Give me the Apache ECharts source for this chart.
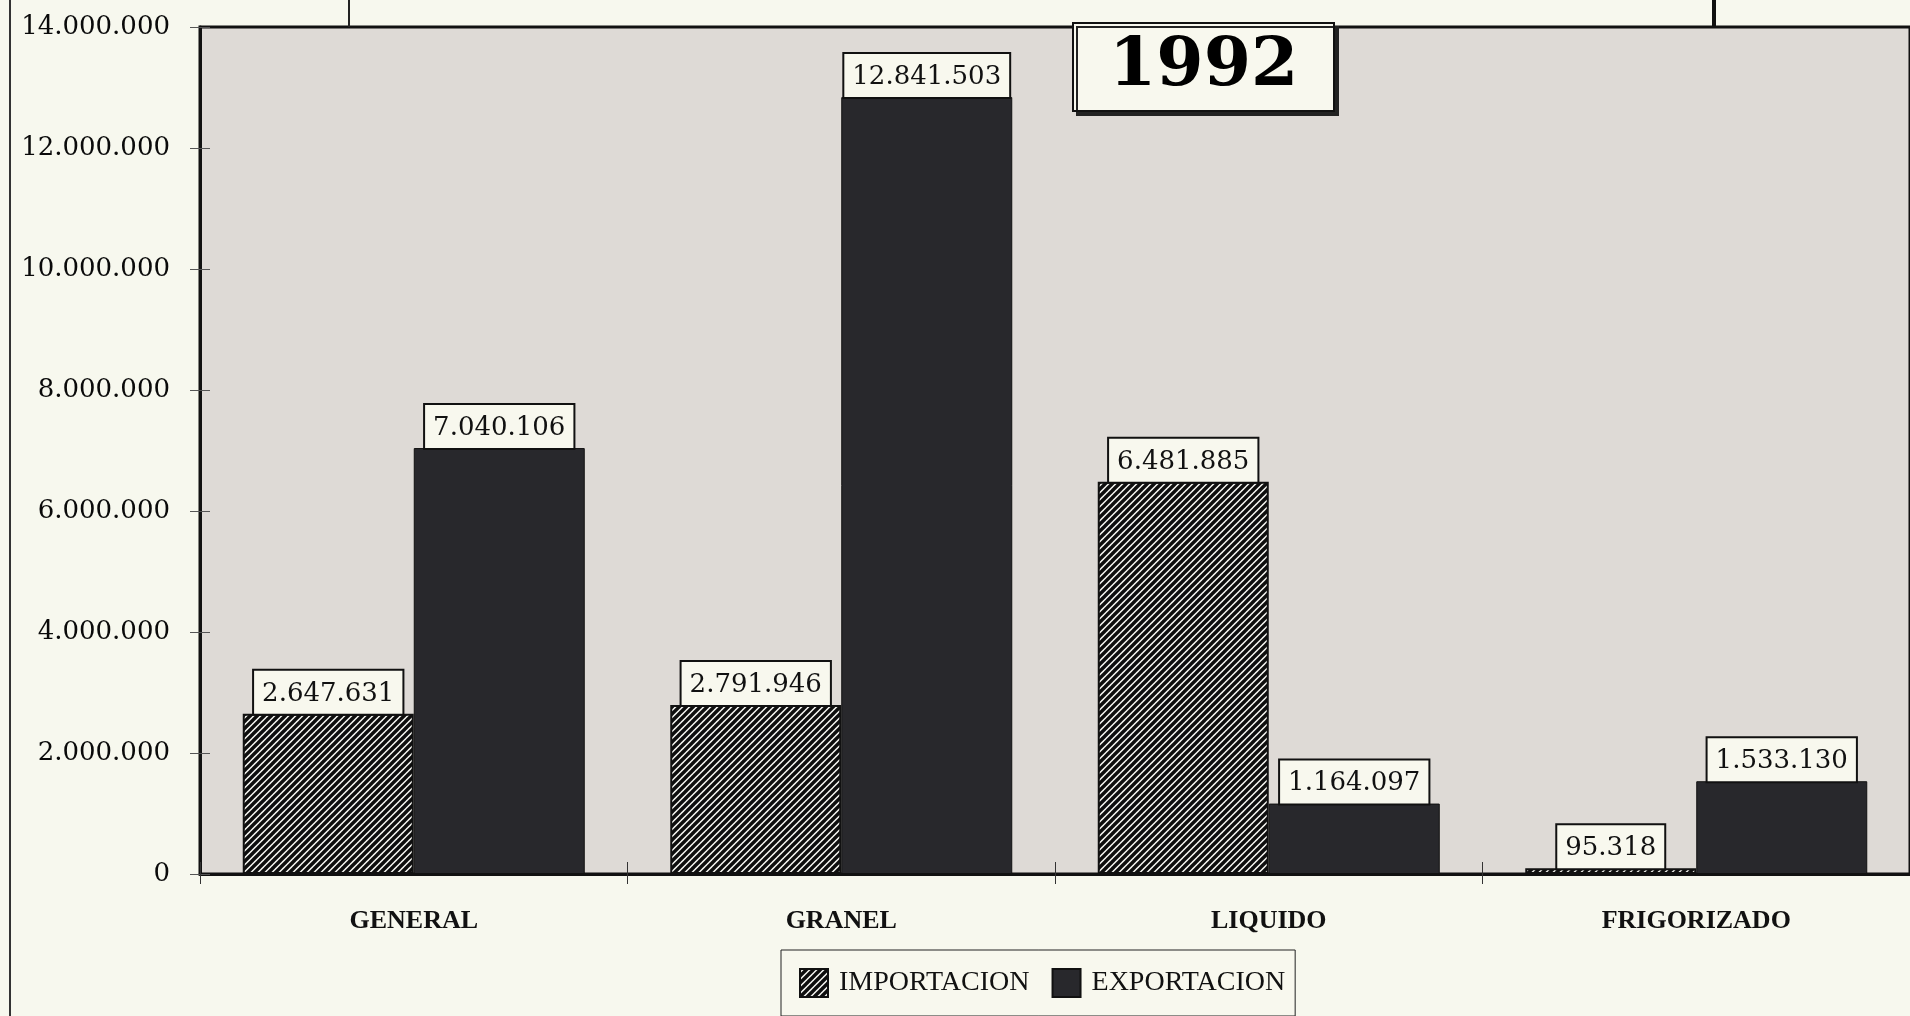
<!DOCTYPE html>
<html lang="es">
  <head>
    <meta charset="utf-8" />
    <style>
      html,
      body {
        margin: 0;
        width: 100%;
        height: 100%;
        background-color: #f7f8ee;
      }
      #container {
        width: 100%;
        height: 100%;
      }
    </style>
    <script src="https://cdn.jsdelivr.net/npm/echarts@6/dist/echarts.min.js"></script>
  </head>

  <body>
    <div id="container"></div>

    <script>
      // datos (toneladas, 1992)
      var categories = ["GENERAL", "GRANEL", "LIQUIDO", "FRIGORIZADO"];
      var importacion = [2647631, 2791946, 6481885, 95318];
      var exportacion = [7040106, 12841503, 1164097, 1533130];
      var seriesNames = ["IMPORTACION", "EXPORTACION"];
      var yearLabel = "1992";

      (function () {
        var chart = echarts.init(document.querySelector("#container"));

        // separador de miles con punto
        function fmt(v) {
          return String(v).replace(/\B(?=(\d{3})+(?!\d))/g, ".");
        }

        // trama rayada para importacion
        function hatch() {
          var c = document.createElement("canvas");
          var s = 7;
          c.width = s;
          c.height = s;
          var ctx = c.getContext("2d");
          ctx.fillStyle = "#f2f2ee";
          ctx.fillRect(0, 0, s, s);
          ctx.strokeStyle = "#0e0e0e";
          ctx.lineWidth = 3.4;
          ctx.beginPath();
          ctx.moveTo(0, s);
          ctx.lineTo(s, 0);
          ctx.moveTo(-1, 1);
          ctx.lineTo(1, -1);
          ctx.moveTo(s - 1, s + 1);
          ctx.lineTo(s + 1, s - 1);
          ctx.stroke();
          return c;
        }

        var labelStyle = {
          show: true,
          position: "top",
          distance: 0,
          formatter: function (p) {
            return fmt(p.value);
          },
          fontFamily: "DejaVu Serif",
          fontSize: 26,
          color: "#111",
          backgroundColor: "#f8f8ee",
          borderColor: "#111",
          borderWidth: 2,
          padding: [10, 8, 7, 8]
        };

        var option = {
          backgroundColor: "#f7f8ee",
          animation: false,
          title: {
            text: yearLabel,
            left: 1073,
            top: 23,
            padding: [9, 36, 9, 36],
            backgroundColor: "#f8f8ee",
            borderColor: "#111",
            borderWidth: 2,
            shadowColor: "#222",
            shadowBlur: 0,
            shadowOffsetX: 4,
            shadowOffsetY: 4,
            textStyle: {
              fontFamily: "DejaVu Serif",
              fontWeight: "bold",
              fontSize: 68,
              lineHeight: 70,
              color: "#000"
            }
          },
          legend: {
            data: seriesNames,
            left: 781,
            top: 950,
            padding: [18, 10, 18, 18],
            itemWidth: 28,
            itemHeight: 28,
            itemGap: 22,
            icon: "rect",
            backgroundColor: "#f8f8ee",
            borderColor: "#222",
            borderWidth: 1,
            textStyle: {
              fontFamily: "Liberation Serif",
              fontSize: 28,
              color: "#111",
              padding: [0, 0, 0, 6]
            }
          },
          grid: {
            left: 200,
            top: 27,
            right: -4,
            bottom: 142,
            show: true,
            backgroundColor: "#dedad6",
            borderColor: "#111",
            borderWidth: 3
          },
          xAxis: [
            {
              type: "category",
              data: categories,
              axisLine: { lineStyle: { color: "#111", width: 3 } },
              axisTick: { show: true, length: 10, lineStyle: { color: "#333" } },
              axisLabel: {
                margin: 34,
                fontFamily: "Liberation Serif",
                fontWeight: "bold",
                fontSize: 26,
                color: "#111"
              }
            },
            {
              type: "category",
              data: categories,
              position: "bottom",
              axisLine: { show: false },
              axisTick: { show: true, inside: true, length: 12, lineStyle: { color: "#333" } },
              axisLabel: { show: false }
            }
          ],
          yAxis: [
            {
              type: "value",
              min: 0,
              max: 14000000,
              interval: 2000000,
              axisLine: { show: true, lineStyle: { color: "#111", width: 3 } },
              axisTick: { show: true, length: 10, lineStyle: { color: "#555" } },
              splitLine: { show: false },
              axisLabel: {
                margin: 30,
                formatter: fmt,
                fontFamily: "DejaVu Serif",
                fontSize: 26,
                color: "#0a0a0a"
              }
            },
            {
              type: "value",
              position: "left",
              min: 0,
              max: 14000000,
              interval: 2000000,
              axisLine: { show: false },
              axisTick: { show: true, inside: true, length: 10, lineStyle: { color: "#555" } },
              splitLine: { show: false },
              axisLabel: { show: false }
            }
          ],
          series: [
            {
              name: seriesNames[0],
              type: "bar",
              data: importacion,
              barGap: "0%",
              barCategoryGap: "20%",
              itemStyle: {
                color: { image: hatch(), repeat: "repeat" },
                borderColor: "#111",
                borderWidth: 2
              },
              label: labelStyle
            },
            {
              name: seriesNames[1],
              type: "bar",
              data: exportacion,
              barGap: "0%",
              barCategoryGap: "20%",
              itemStyle: {
                color: "#28282c",
                borderColor: "#111",
                borderWidth: 1
              },
              label: labelStyle
            }
          ],
          // restos del marco de la pagina escaneada
          graphic: [
            { type: "line", shape: { x1: 10, y1: 0, x2: 10, y2: 1016 }, style: { stroke: "#333", lineWidth: 2 } },
            { type: "line", shape: { x1: 349, y1: 0, x2: 349, y2: 27 }, style: { stroke: "#222", lineWidth: 2 } },
            { type: "line", shape: { x1: 1714, y1: 0, x2: 1714, y2: 27 }, style: { stroke: "#111", lineWidth: 4 } }
          ]
        };
        chart.setOption(option);

        window.addEventListener("resize", function () {
          chart.resize();
        });
      })();
    </script>
  </body>
</html>
